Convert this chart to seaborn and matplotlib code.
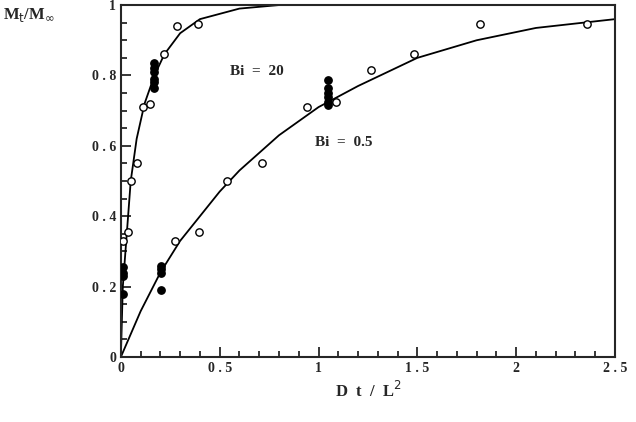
import matplotlib
matplotlib.use("Agg")
import matplotlib.pyplot as plt
import seaborn as sns
from matplotlib.ticker import MultipleLocator

sns.set_theme(style="ticks")
plt.rcParams['font.family'] = ['Liberation Serif', 'DejaVu Serif']

o20_x = [0.012, 0.037, 0.05, 0.083, 0.113, 0.147, 0.22, 0.285, 0.39]
o20_y = [0.33, 0.355, 0.50, 0.55, 0.71, 0.72, 0.86, 0.94, 0.945]
f20_x = [0.17, 0.17, 0.17, 0.17, 0.17, 0.17]
f20_y = [0.835, 0.82, 0.81, 0.79, 0.78, 0.765]
f0_x = [0.01, 0.01, 0.01, 0.01]
f0_y = [0.255, 0.24, 0.23, 0.18]
o05_x = [0.275, 0.395, 0.537, 0.715, 0.94, 1.09, 1.265, 1.485, 1.815, 2.36]
o05_y = [0.33, 0.355, 0.50, 0.55, 0.71, 0.725, 0.815, 0.86, 0.945, 0.945]
f05_x = [0.205, 0.205, 0.205, 0.205, 1.05, 1.05, 1.05, 1.05, 1.05, 1.05]
f05_y = [0.26, 0.25, 0.24, 0.19, 0.787, 0.765, 0.75, 0.74, 0.725, 0.715]
c20_x = [0, 0.01, 0.03, 0.05, 0.08, 0.12, 0.17, 0.22, 0.3, 0.4, 0.6, 0.8, 2.5]
c20_y = [0, 0.2, 0.35, 0.5, 0.62, 0.72, 0.8, 0.86, 0.92, 0.96, 0.99, 1.0, 1.0]
c05_x = [0, 0.1, 0.2, 0.3, 0.4, 0.5, 0.6, 0.8, 1.0, 1.2, 1.5, 1.8, 2.1, 2.5]
c05_y = [0, 0.13, 0.24, 0.33, 0.4, 0.47, 0.53, 0.63, 0.71, 0.77, 0.85, 0.9, 0.935, 0.96]
xticks = [0, 0.5, 1, 1.5, 2, 2.5]
xtick_labels = ['0', '0 . 5', '1', '1 . 5', '2', '2 . 5']
yticks = [0, 0.2, 0.4, 0.6, 0.8, 1]
ytick_labels = ['0', '0 . 2', '0 . 4', '0 . 6', '0 . 8', '1']

fig, ax = plt.subplots(figsize=(6.36, 4.22), dpi=100)
fig.subplots_adjust(left=0.19, right=0.967, bottom=0.154, top=0.988)
sns.lineplot(x=c20_x, y=c20_y, ax=ax, color='black', lw=1.3)
sns.lineplot(x=c05_x, y=c05_y, ax=ax, color='black', lw=1.3)
for xs, ys, fc in [(o20_x, o20_y, 'white'), (o05_x, o05_y, 'white'),
                   (f20_x, f20_y, 'black'), (f0_x, f0_y, 'black'), (f05_x, f05_y, 'black')]:
    sns.scatterplot(x=xs, y=ys, ax=ax, color=fc, edgecolor='black', s=28, linewidth=1, zorder=5)

ax.set_xlim(0, 2.5)
ax.set_ylim(0, 1)
ax.set_xticks(xticks, xtick_labels)
ax.set_yticks(yticks, ytick_labels)
ax.xaxis.set_minor_locator(MultipleLocator(0.1))
ax.yaxis.set_minor_locator(MultipleLocator(0.05))
ax.tick_params(which='both', direction='in', width=1.3, labelsize=10)
ax.tick_params(which='major', length=7)
ax.tick_params(which='minor', length=4)
for lab in ax.get_xticklabels() + ax.get_yticklabels():
    lab.set_fontweight('bold')
for s in ax.spines.values():
    s.set_linewidth(1.5)
ax.set_xlabel(r'D  t  /  L$^2$', fontsize=12, fontweight='bold')
fig.text(0.005, 0.955, r'M$_{\rm t}$/M$_\infty$', fontsize=12, fontweight='bold')
ax.text(0.55, 0.8, 'Bi  =  20', fontsize=11, fontweight='bold')
ax.text(0.98, 0.6, 'Bi  =  0.5', fontsize=11, fontweight='bold')
fig.savefig('out.png', dpi=100)
